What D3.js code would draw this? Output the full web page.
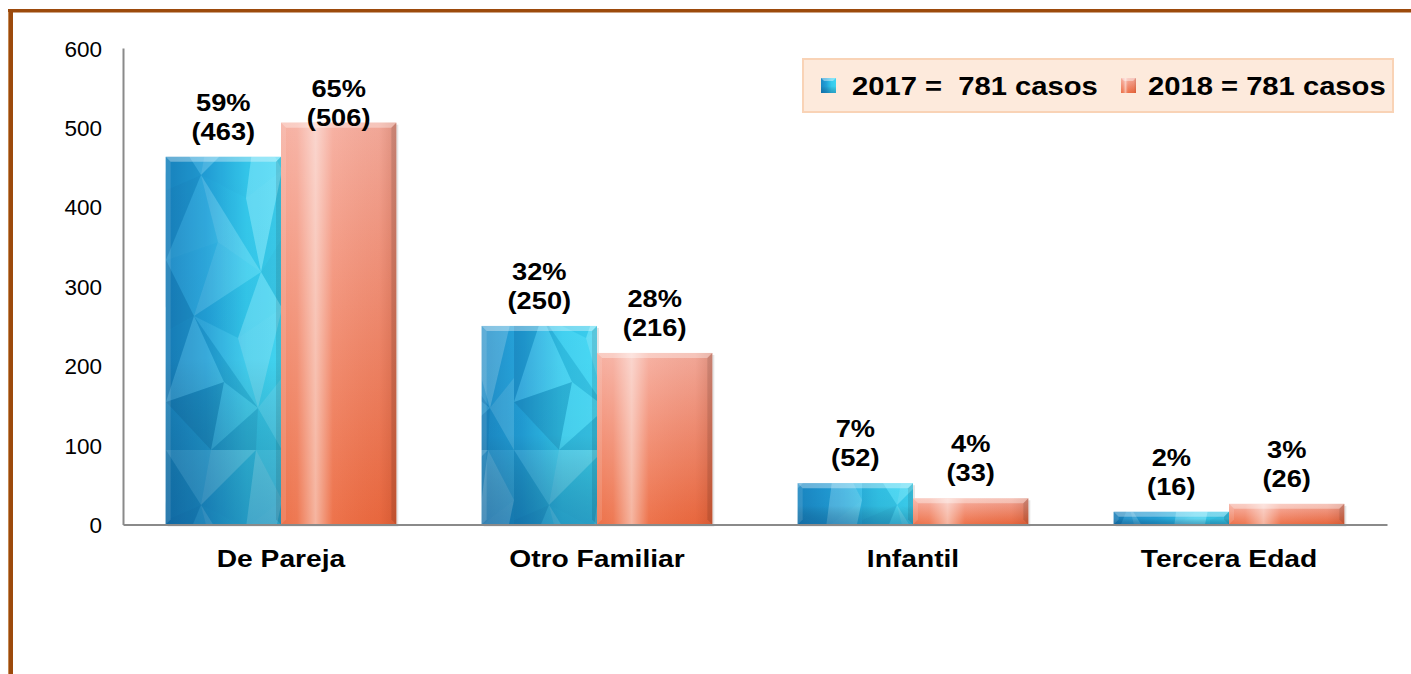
<!DOCTYPE html>
<html><head><meta charset="utf-8">
<script src="https://cdn.jsdelivr.net/npm/d3@7"></script>
<style>
html,body{margin:0;padding:0;background:#fff;}
svg{display:block;font-family:"Liberation Sans",Arial,sans-serif;}
</style></head>
<body>
<svg id="chart" width="1411" height="674"></svg>
<script>
// ---- data ----
const categories = ["De Pareja", "Otro Familiar", "Infantil", "Tercera Edad"];
const seriesNames = ["2017", "2018"];
const values2017 = [463, 250, 52, 16];
const values2018 = [506, 216, 33, 26];
const pct2017 = ["59%", "32%", "7%", "2%"];
const pct2018 = ["65%", "28%", "4%", "3%"];
const yTicks = [0, 100, 200, 300, 400, 500, 600];
const legendLabels = ["2017 =  781 casos", "2018 = 781 casos"];

const svg = d3.select("#chart");
const W = 1411, H = 674;

// ---- frame ----
svg.append("rect").attr("x", 8).attr("y", 9).attr("width", W - 8).attr("height", 3.5).attr("fill", "#9c4a0c");
svg.append("rect").attr("x", 8).attr("y", 9).attr("width", 5).attr("height", H - 9).attr("fill", "#9c4a0c");
svg.append("rect").attr("x", 8).attr("y", 12).attr("width", 1).attr("height", H - 12).attr("fill", "#c58a55");

// ---- defs ----
const defs = svg.append("defs");
function lin(id, x2, y2, stops) {
  const g = defs.append("linearGradient").attr("id", id)
    .attr("x1", 0).attr("y1", 0).attr("x2", x2).attr("y2", y2);
  stops.forEach(s => g.append("stop").attr("offset", s[0]).attr("stop-color", s[1]).attr("stop-opacity", s[2] == null ? 1 : s[2]));
}
lin("blueBase", 1, 0, [[0, "#1b8ac6"], [0.35, "#23a3da"], [0.7, "#36cdef"], [1, "#3fd6f3"]]);
lin("blueShade", 0, 1, [[0, "#000", 0], [0.55, "#000", 0.02], [1, "#00336a", 0.3]]);
lin("pinkBase", 0, 1, [[0, "#f6ad9e"], [0.35, "#f3957d"], [1, "#ec6a40"]]);
lin("pinkGloss", 1, 0, [[0, "#fff", 0.05], [0.14, "#fff", 0.1], [0.3, "#fff", 0.5], [0.45, "#fff", 0.06], [0.85, "#7a1a00", 0.04], [1, "#7a1a00", 0.2]]);

// faceted (low-poly) texture for the blue bars — decorative only
const meshRows = [
  [[0, 0], [45, 0], [90, 0], [116, 0]],
  [[0, 70], [35, 55], [80, 78], [116, 50]],
  [[0, 140], [52, 122], [95, 152], [116, 118]],
  [[0, 212], [28, 196], [72, 218], [116, 188]],
  [[0, 282], [58, 262], [92, 288], [116, 258]],
  [[0, 330], [45, 330], [90, 330], [116, 330]]
];
const shades = [0.10, -0.10, 0.18, -0.06, 0.08, 0.20,
  -0.14, 0.06, -0.04, 0.16, 0.22, -0.08,
  0.04, -0.18, 0.12, -0.05, -0.10, 0.18,
  -0.16, 0.10, 0.06, -0.12, 0.20, 0.02,
  -0.20, -0.06, 0.08, -0.14, 0.12, -0.04];
const pat = defs.append("pattern").attr("id", "blueFacets").attr("patternUnits", "userSpaceOnUse")
  .attr("x", 166).attr("y", 120).attr("width", 116).attr("height", 330);
let k = 0;
for (let r = 0; r < meshRows.length - 1; r++) {
  for (let c = 0; c < 3; c++) {
    const a = meshRows[r][c], b = meshRows[r][c + 1], d = meshRows[r + 1][c], e = meshRows[r + 1][c + 1];
    const tris = (r + c) % 2 === 0 ? [[a, b, e], [a, e, d]] : [[a, b, d], [b, e, d]];
    tris.forEach(t => {
      const s = shades[k++ % shades.length];
      pat.append("polygon").attr("points", t.map(p => p.join(",")).join(" "))
        .attr("fill", s > 0 ? "#fff" : "#003a70").attr("fill-opacity", Math.abs(s));
    });
  }
}

// ---- scales ----
const y = d3.scaleLinear().domain([0, 600]).range([524.5, 48]);
const x0 = d3.scaleBand().domain(categories).range([123, 1387]).paddingInner(0.27).paddingOuter(0.135);
const x1 = d3.scaleBand().domain(seriesNames).range([0, x0.bandwidth()]).padding(0);

// ---- y axis ----
const yAxis = d3.axisLeft(y).tickValues(yTicks).tickSize(0).tickPadding(21);
const yg = svg.append("g").attr("transform", "translate(123,0)").call(yAxis);
yg.select(".domain").attr("stroke", "#8a8a8a").attr("stroke-width", 2);
yg.selectAll("text").attr("font-size", 22.5).attr("fill", "#000")
  .attr("font-family", "'Liberation Sans',Arial,sans-serif").attr("dy", "0.36em");

// ---- bars ----
const rows = categories.map((c, i) => ({
  cat: c,
  bars: [
    { s: "2017", v: values2017[i], p: pct2017[i] },
    { s: "2018", v: values2018[i], p: pct2018[i] }
  ]
}));

const groups = svg.append("g").selectAll("g").data(rows).join("g")
  .attr("transform", d => `translate(${x0(d.cat)},0)`);

groups.each(function (d) {
  const g = d3.select(this);
  d.bars.forEach(b => {
    const bx = x1(b.s), bw = x1.bandwidth(), by = y(b.v), bh = y(0) - y(b.v);
    g.append("rect").attr("x", bx + 2).attr("y", by + 2).attr("width", bw).attr("height", bh)
      .attr("fill", "#000").attr("fill-opacity", 0.1);
    if (b.s === "2017") {
      g.append("rect").attr("x", bx).attr("y", by).attr("width", bw).attr("height", bh).attr("fill", "url(#blueBase)");
      g.append("rect").attr("x", x0(d.cat) + bx).attr("y", by).attr("width", bw).attr("height", bh)
        .attr("fill", "url(#blueFacets)").attr("transform", `translate(${-x0(d.cat)},0)`);
      g.append("rect").attr("x", bx).attr("y", by).attr("width", bw).attr("height", bh).attr("fill", "url(#blueShade)");
    } else {
      g.append("rect").attr("x", bx).attr("y", by).attr("width", bw).attr("height", bh).attr("fill", "url(#pinkBase)");
      g.append("rect").attr("x", bx).attr("y", by).attr("width", bw).attr("height", bh).attr("fill", "url(#pinkGloss)");
    }
    const bev = Math.min(5, bh / 2);
    g.append("path")
      .attr("d", `M${bx},${by}h${bw}l${-bev},${bev}h${-(bw - 2 * bev)}z`)
      .attr("fill", "#fff").attr("fill-opacity", 0.35);
    g.append("path")
      .attr("d", `M${bx + bw},${by}v${bh}l${-bev},${-bev}v${-(bh - 2 * bev)}z`)
      .attr("fill", "#000").attr("fill-opacity", 0.1);
    g.append("path")
      .attr("d", `M${bx},${by}v${bh}l${bev},${-bev}v${-(bh - 2 * bev)}z`)
      .attr("fill", "#fff").attr("fill-opacity", 0.12);

    const cx = bx + bw / 2;
    const base2 = Math.max(by - 17, 126);
    const base1 = base2 - 29;
    [[b.p, base1], ["(" + b.v + ")", base2]].forEach(t => {
      g.append("g").attr("transform", `translate(${cx},${t[1]}) scale(1.16,1)`)
        .append("text").attr("text-anchor", "middle").attr("font-size", 23.5)
        .attr("font-weight", "bold").attr("fill", "#000").text(t[0]);
    });
  });
});

// ---- x axis ----
const xAxis = d3.axisBottom(x0).tickSize(0).tickFormat("");
const xg = svg.append("g").attr("transform", `translate(0,${y(0)})`).call(xAxis);
xg.select(".domain").attr("stroke", "#8a8a8a").attr("stroke-width", 2);

svg.append("g").selectAll("g").data(categories).join("g")
  .attr("transform", c => `translate(${x0(c) + x0.bandwidth() / 2},567) scale(1.2,1)`)
  .append("text").attr("text-anchor", "middle").attr("font-size", 23.5)
  .attr("font-weight", "bold").attr("fill", "#000").text(c => c);

// ---- legend ----
const lg = svg.append("g");
lg.append("rect").attr("x", 803).attr("y", 59).attr("width", 590).attr("height", 53)
  .attr("fill", "#fdeadc").attr("stroke", "#f9d3b6").attr("stroke-width", 2);
const legendX = [821, 1121];
const textX = [852, 1148];
seriesNames.forEach((s, i) => {
  const fillBase = i === 0 ? "url(#blueBase)" : "url(#pinkBase)";
  lg.append("rect").attr("x", legendX[i]).attr("y", 78).attr("width", 15).attr("height", 15).attr("fill", fillBase);
  lg.append("rect").attr("x", legendX[i]).attr("y", 78).attr("width", 15).attr("height", 15)
    .attr("fill", i === 0 ? "url(#blueShade)" : "url(#pinkGloss)");
  lg.append("path").attr("d", `M${legendX[i]},78h15l-3,3h-9z`).attr("fill", "#fff").attr("fill-opacity", 0.4);
  lg.append("g").attr("transform", `translate(${textX[i]},95) scale(1.14,1)`)
    .append("text").attr("font-size", 25.6).attr("font-weight", "bold").attr("fill", "#000")
    .style("white-space", "pre").text(legendLabels[i]);
});
</script>
</body></html>
